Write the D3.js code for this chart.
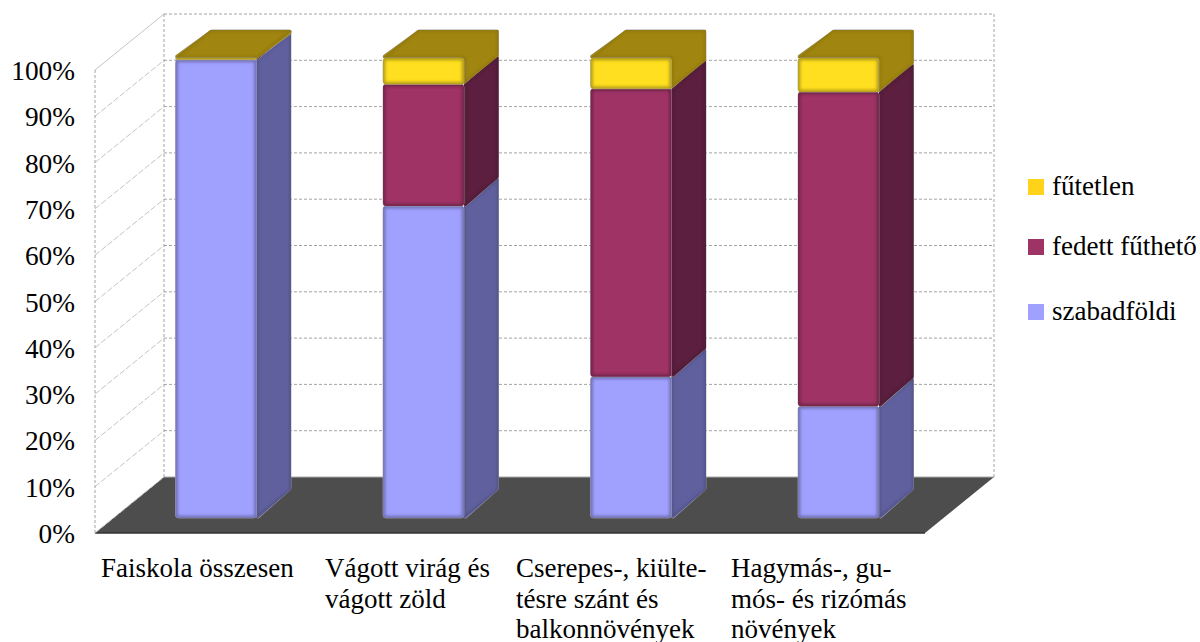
<!DOCTYPE html>
<html><head><meta charset="utf-8">
<script src="https://cdnjs.cloudflare.com/ajax/libs/d3/7.8.5/d3.min.js"></script>
<style>html,body{margin:0;padding:0;background:#fff}svg{display:block}text{font-family:"Liberation Serif",serif;fill:#000}</style>
</head><body><svg id="c" width="1200" height="642"></svg>
<script>
const categories = ["Faiskola összesen","Vágott virág és vágott zöld","Cserepes-, kiültetésre szánt és balkonnövények","Hagymás-, gumós- és rizómás növények"];
const categoryLines = [["Faiskola összesen"],["Vágott virág és","vágott zöld"],["Cserepes-, kiülte-","tésre szánt és","balkonnövények"],["Hagymás-, gu-","mós- és rizómás","növények"]];
const seriesNames = ["szabadföldi","fedett fűthető","fűtetlen"];
const szabadfoldi = [99.6,67.8,30.7,24.3];
const fedett = [0.1,26.5,62.6,68.3];
const futetlen = [0.3,5.7,6.7,7.4];
const yTicks = [0,10,20,30,40,50,60,70,80,90,100];
const frontColors = ["#A0A0FF","#A03366","#FFDF1F"];
const sideColors = ["#60609F","#5C1F3F","#A08510"];
const topColor = "#A08510";
const legendColors = ["#A0A0FF","#9E3366","#FFD31A"];

const svg = d3.select("#c");
const series = [szabadfoldi,fedett,futetlen];
const x = d3.scaleBand().domain(categories).range([95,925]).paddingInner(0.61).paddingOuter(0.305);
const yFront = d3.scaleLinear().domain([0,100]).range([533,70]);
const yBar = d3.scaleLinear().domain([0,100]).range([518,58]);
const depthX = d3.scaleLinear().domain([0,1]).range([0,69]);
const depthY = d3.scaleLinear().domain([0,1]).range([0,-56]);
const grid = "#a4a4a4";
const defs = svg.append("defs");
const f = defs.append("filter").attr("id","soft").attr("x","-10%").attr("y","-10%").attr("width","120%").attr("height","120%");
f.append("feGaussianBlur").attr("stdDeviation",1.5);

// floor
svg.append("path").attr("d",d3.line()([[95,533],[925,533],[925+depthX(1),533+depthY(1)],[95+depthX(1),533+depthY(1)]])+"Z").attr("fill","#4D4D4D");
svg.append("line").attr("x1",95).attr("x2",925).attr("y1",533).attr("y2",533).attr("stroke","#333").attr("stroke-width",1.5);

// walls
const bx0=95+depthX(1), bx1=925+depthX(1), dy=depthY(1);
yTicks.forEach(t=>{
  const y=yFront(t);
  if(t>0) svg.append("line").attr("x1",bx0).attr("x2",bx1).attr("y1",y+dy).attr("y2",y+dy).attr("stroke",grid).attr("stroke-width",1).attr("stroke-dasharray","3 2");
  svg.append("line").attr("x1",95).attr("x2",bx0).attr("y1",y).attr("y2",y+dy).attr("stroke","#c4c4c4").attr("stroke-width",1).attr("stroke-dasharray",t==100?null:"6 2");
});
svg.append("line").attr("x1",bx0).attr("x2",bx1).attr("y1",yFront(0)+dy).attr("y2",yFront(0)+dy).attr("stroke","#aaa");
[[95,yFront(100),533],[bx0,yFront(100)+dy,yFront(0)+dy],[bx1,yFront(100)+dy,yFront(0)+dy]].forEach(a=>{
  svg.append("line").attr("x1",a[0]).attr("x2",a[0]).attr("y1",a[1]).attr("y2",a[2]).attr("stroke",grid).attr("stroke-dasharray","3 2");
});

// bars
const dz=0.5, ddx=depthX(dz), ddy=depthY(dz), frontShift=depthX(0.25);
const line=d3.line();
function face(g,pts,fill,edge,id,round){
  const cx=d3.mean(pts,p=>p[0]), cy=d3.mean(pts,p=>p[1]);
  const inner=round?pts.map(p=>[p[0]+Math.sign(cx-p[0])*1.5,p[1]+Math.sign(cy-p[1])*1.5]):pts;
  const d=line(inner)+"Z", w=round?3:0.8;
  defs.append("clipPath").attr("id",id).append("path").attr("d",line(pts)+"Z");
  g.append("path").attr("d",d).attr("fill","#a0a0a0").attr("stroke","#a0a0a0").attr("stroke-width",w+0.8).attr("stroke-linejoin","round");
  g.append("path").attr("d",d).attr("fill",fill).attr("stroke",fill).attr("stroke-width",w).attr("stroke-linejoin","round");
  g.append("g").attr("clip-path",`url(#${id})`).append("path").attr("d",line(pts)+"Z").attr("fill","none").attr("stroke",edge).attr("stroke-width",3.5).attr("filter","url(#soft)");
}
categories.forEach((c,i)=>{
  const g=svg.append("g");
  const xl=x(c)+frontShift, xr=xl+x.bandwidth();
  let acc=0;
  const segs=series.map((s,k)=>{const a=acc; acc+=s[i]; return {k,a,b:acc};});
  const yt=yBar(acc);
  segs.slice(0,2).forEach(s=>{
    const y0=yBar(s.a), y1=yBar(s.b);
    face(g,[[xr,y0],[xr+ddx,y0+ddy],[xr+ddx,y1+ddy],[xr,y1]],sideColors[s.k],d3.color(sideColors[s.k]).darker(0.45),`s${i}${s.k}`,y0-y1>4);
  });
  // top face joined with the side of the top segment, as one shape
  const ys=yBar(segs[2].a);
  face(g,[[xl,yt],[xl+ddx,yt+ddy],[xr+ddx,yt+ddy],[xr+ddx,ys+ddy],[xr,ys],[xr,yt]],topColor,d3.color(topColor).darker(0.3),`t${i}`,true);
  segs.forEach(s=>{
    const y0=yBar(s.a), y1=yBar(s.b);
    g.append("rect").attr("x",xl).attr("y",y1).attr("width",xr-xl).attr("height",y0-y1).attr("rx",3).attr("fill",frontColors[s.k]).attr("stroke","#a8a8a8").attr("stroke-width",0.7);
    defs.append("clipPath").attr("id",`f${i}${s.k}`).append("rect").attr("x",xl).attr("y",y1).attr("width",xr-xl).attr("height",y0-y1).attr("rx",3);
    g.append("g").attr("clip-path",`url(#f${i}${s.k})`).append("rect").attr("x",xl).attr("y",y1).attr("width",xr-xl).attr("height",y0-y1).attr("fill","none").attr("stroke",d3.color(frontColors[s.k]).darker(1)).attr("stroke-width",4.5).attr("filter","url(#soft)");
  });
});

// y labels
yTicks.forEach(t=>{
  svg.append("text").attr("x",75).attr("y",yFront(t)+10).attr("text-anchor","end").attr("font-size",27.3).text(t+"%");
});
// x labels
const labelX=[101,325,516,731];
categories.forEach((c,i)=>{
  categoryLines[i].forEach((l,j)=>{
    svg.append("text").attr("x",labelX[i]).attr("y",577+j*30.5).attr("font-size",27).text(l);
  });
});
// legend
const legendY=[187,247,312];
[2,1,0].forEach((k,j)=>{
  svg.append("rect").attr("x",1028).attr("y",legendY[j]-8).attr("width",16).attr("height",16).attr("fill",legendColors[k]);
  svg.append("text").attr("x",1052).attr("y",legendY[j]+8).attr("font-size",27).text(seriesNames[k]);
});
</script></body></html>
